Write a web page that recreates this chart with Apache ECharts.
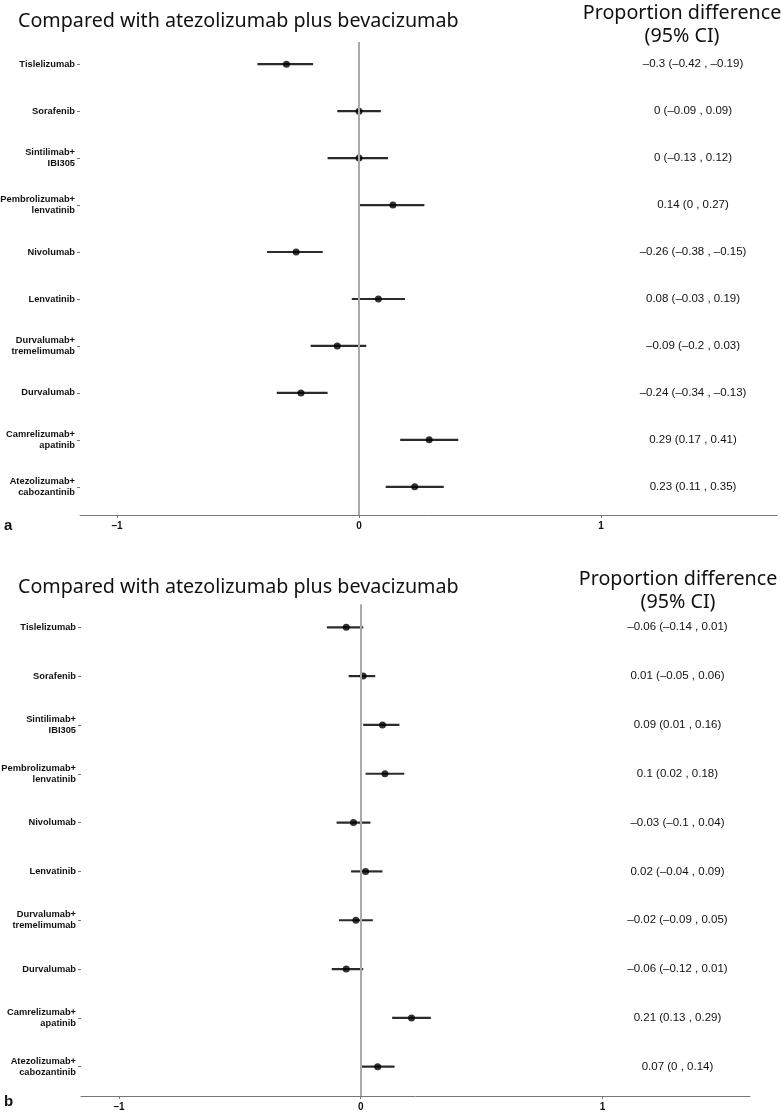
<!DOCTYPE html>
<html><head><meta charset="utf-8">
<script src="https://cdn.jsdelivr.net/npm/echarts@6/dist/echarts.min.js"></script>
<style>html,body{margin:0;padding:0;background:#fff}#c{width:781px;height:1116px}</style>
</head><body><div id="c"></div>
<script>
// ---- data ----
const treatments = ['Tislelizumab','Sorafenib','Sintilimab+\nIBI305','Pembrolizumab+\nlenvatinib','Nivolumab','Lenvatinib','Durvalumab+\ntremelimumab','Durvalumab','Camrelizumab+\napatinib','Atezolizumab+\ncabozantinib'];
const estA  = [-0.3, 0, 0, 0.14, -0.26, 0.08, -0.09, -0.24, 0.29, 0.23];
const lowA  = [-0.42, -0.09, -0.13, 0, -0.38, -0.03, -0.2, -0.34, 0.17, 0.11];
const highA = [-0.19, 0.09, 0.12, 0.27, -0.15, 0.19, 0.03, -0.13, 0.41, 0.35];
const estB  = [-0.06, 0.01, 0.09, 0.1, -0.03, 0.02, -0.02, -0.06, 0.21, 0.07];
const lowB  = [-0.14, -0.05, 0.01, 0.02, -0.1, -0.04, -0.09, -0.12, 0.13, 0];
const highB = [0.01, 0.06, 0.16, 0.18, 0.04, 0.09, 0.05, 0.01, 0.29, 0.14];
const xTicks = [-1, 0, 1];
const titleText = 'Compared with atezolizumab plus bevacizumab';
const headText = 'Proportion difference\n(95% CI)';

// ---- build ----
const rows = treatments.map((_, i) => i + 1);
const fmt = n => (n < 0 ? '\u2013' : '') + Math.abs(n);
const ciText = (e, l, h) => `${fmt(e)} (${fmt(l)} , ${fmt(h)})`;
const labelFont = '"Liberation Sans", Arial, sans-serif';

function yAxis(gi) {
  return {
    gridIndex: gi, type: 'value', inverse: true, min: 0.4, max: 10.6,
    axisLine: { show: false, onZero: false }, splitLine: { show: false },
    axisTick: { show: true, customValues: rows, length: 3, lineStyle: { color: '#777' } },
    axisLabel: { customValues: rows, formatter: v => treatments[Math.round(v) - 1],
      fontFamily: labelFont, fontWeight: 'bold', fontSize: 9.3,
      color: '#111', lineHeight: 11, margin: 5, align: 'right' }
  };
}
function xAxis(gi, min, max) {
  return {
    gridIndex: gi, type: 'value', min: min, max: max,
    axisLine: { show: true, onZero: false, lineStyle: { color: '#777', width: 1 } },
    splitLine: { show: false },
    axisTick: { show: true, customValues: xTicks, length: 3, lineStyle: { color: '#777' } },
    axisLabel: { customValues: xTicks, formatter: v => fmt(v),
      fontFamily: labelFont, fontWeight: 'bold', fontSize: 10, color: '#111', margin: 6 }
  };
}
function panelSeries(gi, est, low, high, textX) {
  return [
    { type: 'line', xAxisIndex: gi, yAxisIndex: gi, data: [], z: 1,
      markLine: { silent: true, symbol: 'none', label: { show: false },
        lineStyle: { color: '#aaaaaa', width: 2, type: 'solid' },
        data: [[{ coord: [0, 0.53] }, { coord: [0, 10.6] }]] } },
    { type: 'custom', xAxisIndex: gi, yAxisIndex: gi, z: 3,
      data: rows.map((r, i) => [low[i], high[i], r]),
      renderItem: (params, api) => {
        const a = api.coord([api.value(0), api.value(2)]);
        const b = api.coord([api.value(1), api.value(2)]);
        return { type: 'line', shape: { x1: a[0], y1: a[1], x2: b[0], y2: b[1] },
          style: { stroke: '#2b2b2b', lineWidth: 2.2 } };
      } },
    { type: 'scatter', xAxisIndex: gi, yAxisIndex: gi, z: 4, symbol: 'circle', symbolSize: 7,
      itemStyle: { color: '#000' }, data: rows.map((r, i) => [est[i], r]) },
    { type: 'custom', xAxisIndex: gi, yAxisIndex: gi, z: 4,
      data: rows.map((r, i) => [textX, r, i]),
      renderItem: (params, api) => {
        const p = api.coord([api.value(0), api.value(1)]);
        const i = api.value(2);
        return { type: 'text', x: p[0], y: p[1],
          style: { text: ciText(est[i], low[i], high[i]), fill: '#111',
            font: '11.5px "Liberation Sans", Arial, sans-serif', align: 'center', verticalAlign: 'middle' } };
      } }
  ];
}

const titleFont = '19.7px "Noto Sans", sans-serif';
const chart = echarts.init(document.getElementById('c'), null, { renderer: 'canvas' });
chart.setOption({
  animation: false,
  backgroundColor: '#fff',
  grid: [
    { left: 80, top: 36, width: 697, height: 479, containLabel: false, outerBoundsMode: 'none' },
    { left: 81, top: 598, width: 669, height: 498, containLabel: false, outerBoundsMode: 'none' }
  ],
  xAxis: [xAxis(0, -1.153, 1.727), xAxis(1, -1.157, 1.61)],
  yAxis: [yAxis(0), yAxis(1)],
  series: [...panelSeries(0, estA, lowA, highA, 1.38), ...panelSeries(1, estB, lowB, highB, 1.31)],
  graphic: [
    { type: 'text', left: 18, top: 11, style: { text: titleText, font: titleFont, fill: '#111' } },
    { type: 'text', x: 682, y: 2, style: { text: headText, font: titleFont, fill: '#111', align: 'center', lineHeight: 23 } },
    { type: 'text', left: 4, top: 518, style: { text: 'a', font: 'bold 15px "Liberation Sans", Arial, sans-serif', fill: '#111' } },
    { type: 'text', left: 18, top: 577, style: { text: titleText, font: titleFont, fill: '#111' } },
    { type: 'text', x: 678, y: 568, style: { text: headText, font: titleFont, fill: '#111', align: 'center', lineHeight: 23 } },
    { type: 'text', left: 4, top: 1094, style: { text: 'b', font: 'bold 15px "Liberation Sans", Arial, sans-serif', fill: '#111' } }
  ]
});
</script>
</body></html>
